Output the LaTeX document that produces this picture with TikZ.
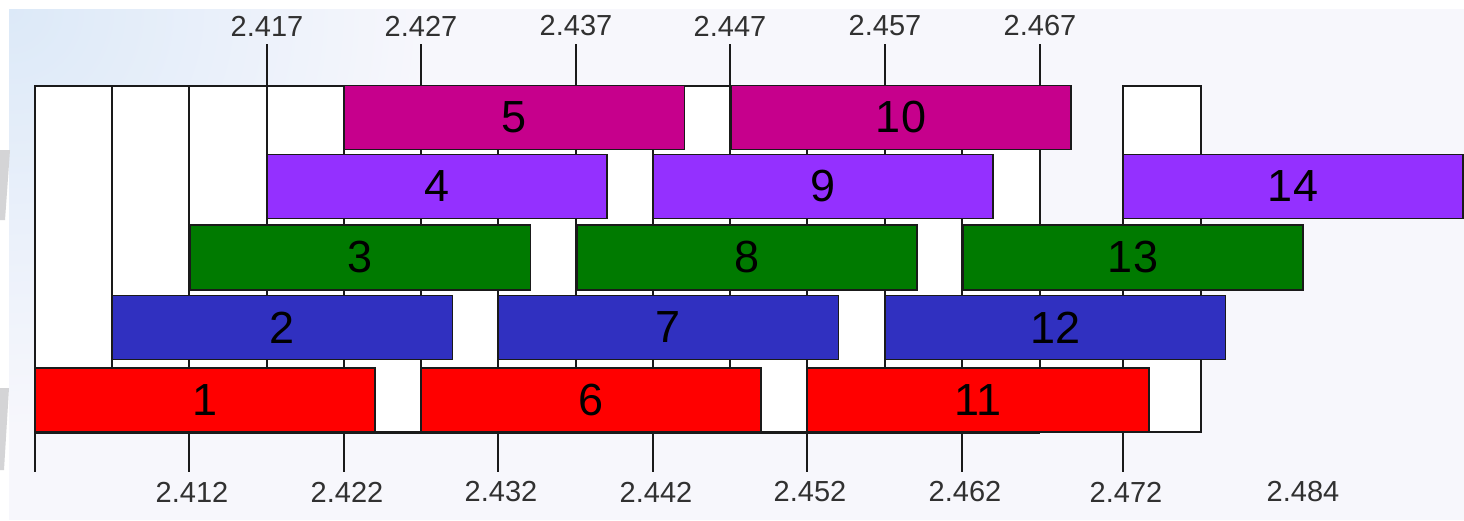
\documentclass[tikz,border=0pt]{standalone}
\usepackage{fontspec}
\setmainfont{Liberation Sans}
\definecolor{bg}{HTML}{F7F7FC}
\definecolor{glow}{HTML}{DCE9F8}
\definecolor{cred}{HTML}{FF0000}
\definecolor{cblue}{HTML}{3030C0}
\definecolor{cgreen}{HTML}{007A00}
\definecolor{cpurple}{HTML}{9430FF}
\definecolor{cmag}{HTML}{C6008C}
\definecolor{wm}{HTML}{D4D4D6}
\definecolor{ink}{HTML}{1A1A1A}
\begin{document}
\begin{tikzpicture}[x=1pt,y=-1pt,
  cell/.style={fill=white, draw=ink, line width=1.4pt},
  bar/.style={draw=ink, line width=1.4pt, minimum width=340pt, minimum height=64pt,
    inner sep=0pt, outer sep=0pt, font=\fontsize{45}{45}\selectfont, text=black},
  ticklab/.style={font=\fontsize{29}{29}\selectfont, text=ink!90, inner sep=0pt},
  tickline/.style={draw=ink, line width=1.4pt}]
% page and background
\useasboundingbox (0,0) rectangle (1464,520);
\fill[white] (0,0) rectangle (1464,520);
\fill[bg] (9,9) rectangle (1464,520);
\begin{scope}
  \clip (9,9) rectangle (1464,520);
  \shade[inner color=glow, outer color=bg] (9,9) circle (420pt);
\end{scope}
\fill[wm] (0,150) -- (10,150) -- (5,220) -- (0,220) -- cycle;
\fill[wm] (0,388) -- (9,388) -- (4,470) -- (0,470) -- cycle;
% white grid columns
\foreach \a/\b in {35/112,112/189,189/267,267/344,344/421,421/498,498/576,576/653,653/730,730/807,807/885,885/962,962/1040}
  \draw[cell] (\a,86) rectangle (\b,432);
\draw[cell] (1040,225) rectangle (1123,432);
\draw[cell] (1123,86) rectangle (1201,432);
\draw[ink, line width=3pt] (35,432) -- (1040,432);
% top ticks
\foreach \x/\n in {267/2.417,421/2.427,576/2.437,885/2.457,1040/2.467} {
  \draw[tickline] (\x,44) -- (\x,86);
  \node[ticklab] (top\x) at (\x,26) {\n};
}
\draw[tickline] (730,44) -- (730,111);
\node[ticklab] (top730) at (730,26) {2.447};
% bottom ticks
\draw[tickline] (35,432) -- (35,472);
\foreach \x/\n in {189/2.412,344/2.422,498/2.432,653/2.442,807/2.452,962/2.462,1123/2.472} {
  \draw[tickline] (\x,432) -- (\x,472);
  \node[ticklab] (bot\x) at (\x+3,492) {\n};
}
\node[ticklab] (bot1303) at (1303,492) {2.484};
% bars row 1 (red)
\node[bar, fill=cred] (b1) at (205,400) {1};
\node[bar, fill=cred] (b6) at (591,400) {6};
\node[bar, fill=cred, minimum width=342pt] (b11) at (978,400) {11};
% row 2 (blue)
\node[bar, fill=cblue] (b2) at (282.5,327.5) {2};
\node[bar, fill=cblue] (b7) at (668.5,327.5) {7};
\node[bar, fill=cblue] (b12) at (1055.5,327.5) {12};
% row 3 (green)
\node[bar, fill=cgreen, minimum height=65pt] (b3) at (360.5,257.5) {3};
\node[bar, fill=cgreen, minimum height=65pt] (b8) at (747,257.5) {8};
\node[bar, fill=cgreen, minimum height=65pt] (b13) at (1133,257.5) {13};
% row 4 (purple)
\node[bar, fill=cpurple] (b4) at (437,186.5) {4};
\node[bar, fill=cpurple] (b9) at (823,186.5) {9};
\node[bar, fill=cpurple] (b14) at (1293,186.5) {14};
% row 5 (magenta)
\node[bar, fill=cmag] (b5) at (514.5,117.5) {5};
\node[bar, fill=cmag] (b10) at (901,117.5) {10};
\end{tikzpicture}
\end{document}
